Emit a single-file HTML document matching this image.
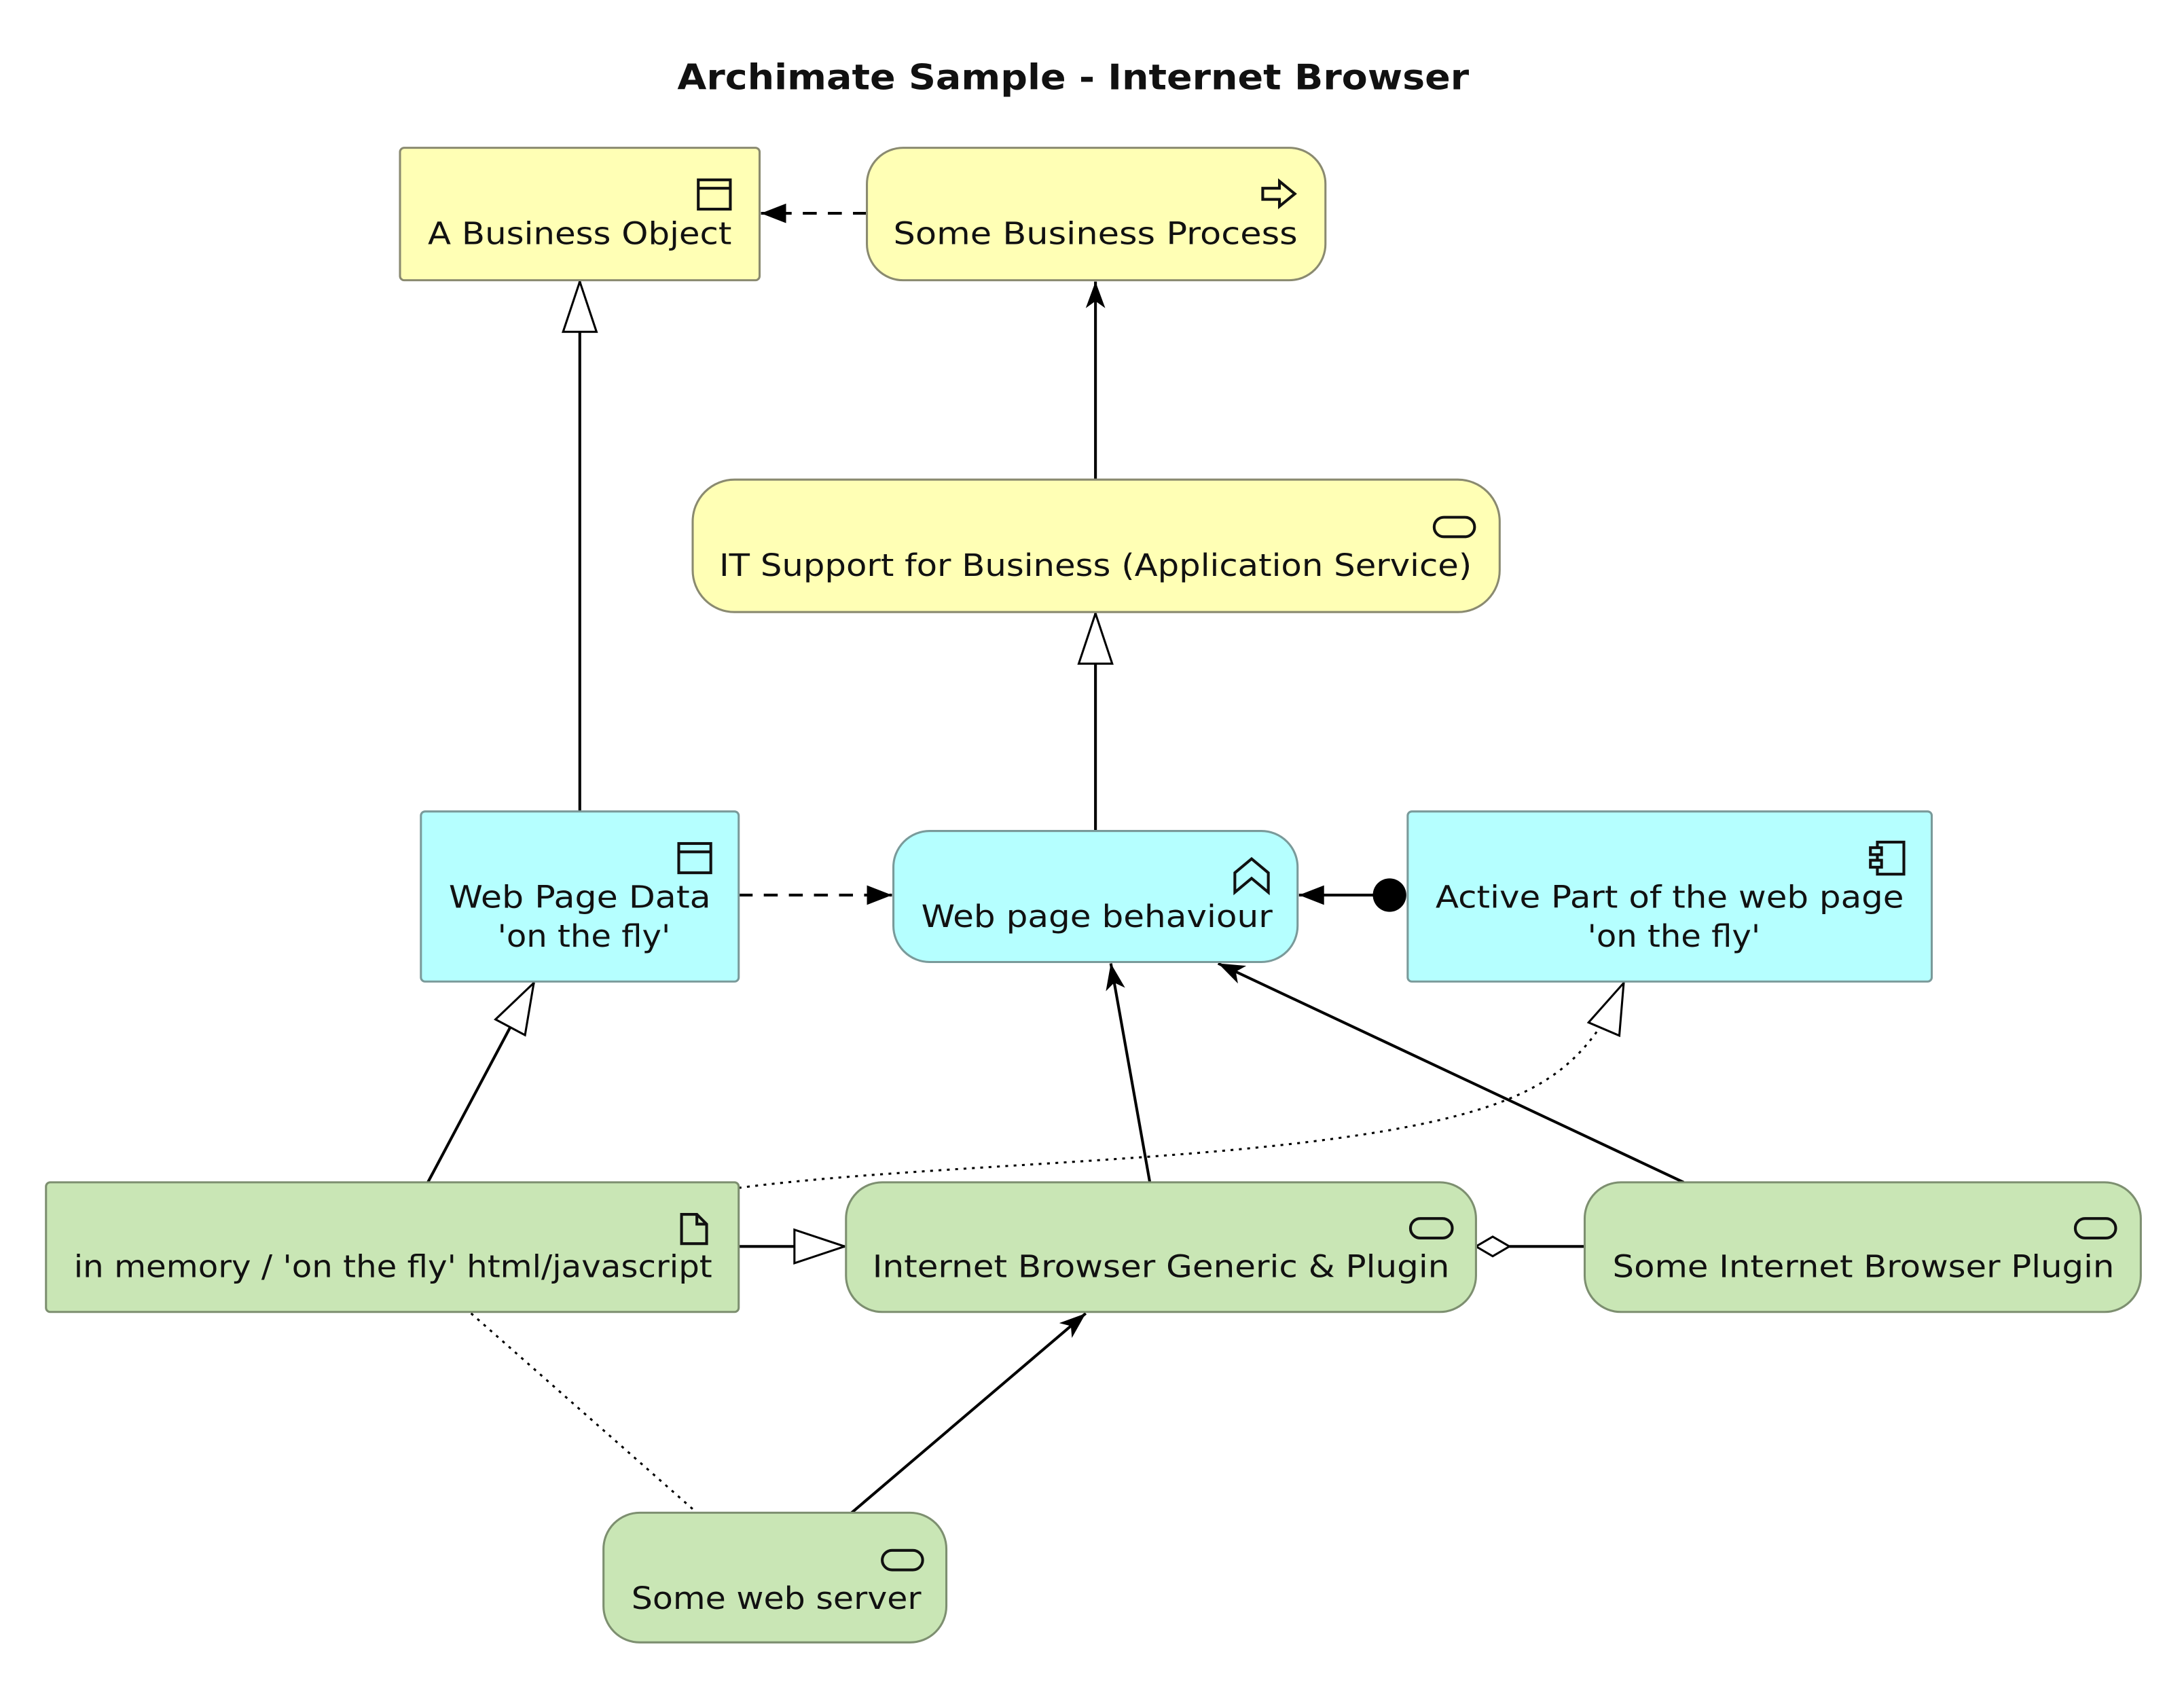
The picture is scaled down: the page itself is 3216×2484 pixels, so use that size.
<!DOCTYPE html>
<html><head><meta charset="utf-8"><style>
html,body{margin:0;padding:0;background:#fff;width:3216px;height:2484px;overflow:hidden}
svg{display:block}
text{font-family:"DejaVu Sans","Liberation Sans",sans-serif;font-size:22px;fill:#111}
</style></head><body>
<svg width="3216" height="2484" viewBox="0 0 1567 1210" preserveAspectRatio="none" xmlns="http://www.w3.org/2000/svg">
<defs>
<marker id="fa" viewBox="0 0 20 20" refX="20" refY="10" markerWidth="20" markerHeight="20" markerUnits="userSpaceOnUse" orient="auto"><path d="M2,3 L20,10 L2,17 Z" fill="#000"/></marker>
<marker id="oa" viewBox="0 0 20 20" refX="19" refY="10" markerWidth="20" markerHeight="20" markerUnits="userSpaceOnUse" orient="auto"><path d="M0,3 L19,10 L0,17 L5,10 Z" fill="#000"/></marker>
<marker id="tri" viewBox="0 0 38 26" refX="37" refY="13" markerWidth="38" markerHeight="26" markerUnits="userSpaceOnUse" orient="auto"><path d="M1,1 L37,13 L1,25 Z" fill="#fff" stroke="#000" stroke-width="1.5"/></marker>
</defs>

<text x="770" y="64" text-anchor="middle" style="font-weight:bold;font-size:25px" textLength="568" lengthAdjust="spacingAndGlyphs">Archimate Sample - Internet Browser</text>

<g stroke="#000" stroke-width="2" fill="none">
<line x1="622" y1="153" x2="546" y2="153" stroke-dasharray="10,8" marker-end="url(#fa)"/>
<line x1="416" y1="582" x2="416" y2="202" marker-end="url(#tri)"/>
<line x1="786" y1="344" x2="786" y2="202" marker-end="url(#oa)"/>
<line x1="786" y1="596" x2="786" y2="440" marker-end="url(#tri)"/>
<line x1="530" y1="642" x2="640" y2="642" stroke-dasharray="10,8" marker-end="url(#fa)"/>
<line x1="990" y1="642" x2="932" y2="642" marker-end="url(#fa)"/>
<line x1="307" y1="848" x2="383" y2="705" marker-end="url(#tri)"/>
<line x1="825" y1="848" x2="797" y2="691" marker-end="url(#oa)"/>
<line x1="1208" y1="848" x2="874" y2="691" marker-end="url(#oa)"/>
<line x1="530" y1="894" x2="606" y2="894" marker-end="url(#tri)"/>
<line x1="1137" y1="894" x2="1083" y2="894"/>
<line x1="611" y1="1085" x2="779" y2="942" marker-end="url(#oa)"/>
<path d="M530,852 C700,830 1000,835 1100,780 C1130,764 1150,740 1165,705" stroke-width="1.5" stroke-dasharray="2,4" marker-end="url(#tri)"/>
<line x1="338" y1="942" x2="500" y2="1085" stroke-width="1.5" stroke-dasharray="2,4"/>
</g>
<path d="M1059,894 L1071,887 L1083,894 L1071,901 Z" fill="#fff" stroke="#000" stroke-width="1.5"/>
<circle cx="997" cy="642" r="12" fill="#000"/>

<g stroke="#8a8a70" stroke-width="1.5">
<rect x="287" y="106" width="258" height="95" rx="3" fill="#ffffb5"/>
<rect x="622" y="106" width="329" height="95" rx="26" fill="#ffffb5"/>
<rect x="497" y="344" width="579" height="95" rx="30" fill="#ffffb5"/>
<rect x="302" y="582" width="228" height="122" rx="3" fill="#b5ffff" stroke="#7a9a9a"/>
<rect x="641" y="596" width="290" height="94" rx="26" fill="#b5ffff" stroke="#7a9a9a"/>
<rect x="1010" y="582" width="376" height="122" rx="3" fill="#b5ffff" stroke="#7a9a9a"/>
<rect x="33" y="848" width="497" height="93" rx="3" fill="#c9e6b5" stroke="#7d8f70"/>
<rect x="607" y="848" width="452" height="93" rx="26" fill="#c9e6b5" stroke="#7d8f70"/>
<rect x="1137" y="848" width="399" height="93" rx="26" fill="#c9e6b5" stroke="#7d8f70"/>
<rect x="433" y="1085" width="246" height="93" rx="26" fill="#c9e6b5" stroke="#7d8f70"/>
</g>

<g stroke="#111" stroke-width="2" fill="none">
<rect x="501" y="129" width="23" height="21"/><line x1="501" y1="135" x2="524" y2="135"/>
<path d="M906,135 h12 v-5 l11,9 l-11,9 v-5 h-12 Z"/>
<rect x="1029" y="371" width="29" height="14" rx="7"/>
<rect x="487" y="605" width="23" height="21"/><line x1="487" y1="611" x2="510" y2="611"/>
<path d="M886,640 v-14 l12,-10 l12,10 v14 l-12,-10 Z"/>
<rect x="1347" y="604" width="19" height="23"/><rect x="1342" y="608" width="8" height="5" fill="#b5ffff"/><rect x="1342" y="617" width="8" height="5" fill="#b5ffff"/>
<path d="M489,871 h11 l7,7 v14 h-18 Z M500,871 v7 h7"/>
<rect x="1012" y="874" width="30" height="14" rx="7"/>
<rect x="1489" y="874" width="29" height="14" rx="7"/>
<rect x="633" y="1112" width="29" height="14" rx="7"/>
</g>

<text x="416" y="175" text-anchor="middle" textLength="218" lengthAdjust="spacingAndGlyphs">A Business Object</text>
<text x="786" y="175" text-anchor="middle" textLength="290" lengthAdjust="spacingAndGlyphs">Some Business Process</text>
<text x="786" y="413" text-anchor="middle" textLength="540" lengthAdjust="spacingAndGlyphs">IT Support for Business (Application Service)</text>
<text x="416" y="651" text-anchor="middle" textLength="188" lengthAdjust="spacingAndGlyphs">Web Page Data</text>
<text x="419" y="679" text-anchor="middle" textLength="124" lengthAdjust="spacingAndGlyphs">'on the fly'</text>
<text x="787" y="665" text-anchor="middle" textLength="252" lengthAdjust="spacingAndGlyphs">Web page behaviour</text>
<text x="1198" y="651" text-anchor="middle" textLength="336" lengthAdjust="spacingAndGlyphs">Active Part of the web page</text>
<text x="1201" y="679" text-anchor="middle" textLength="124" lengthAdjust="spacingAndGlyphs">'on the fly'</text>
<text x="282" y="916" text-anchor="middle" textLength="458" lengthAdjust="spacingAndGlyphs">in memory / 'on the fly' html/javascript</text>
<text x="833" y="916" text-anchor="middle" textLength="414" lengthAdjust="spacingAndGlyphs">Internet Browser Generic &amp; Plugin</text>
<text x="1337" y="916" text-anchor="middle" textLength="360" lengthAdjust="spacingAndGlyphs">Some Internet Browser Plugin</text>
<text x="557" y="1154" text-anchor="middle" textLength="208" lengthAdjust="spacingAndGlyphs">Some web server</text>
</svg>
</body></html>
